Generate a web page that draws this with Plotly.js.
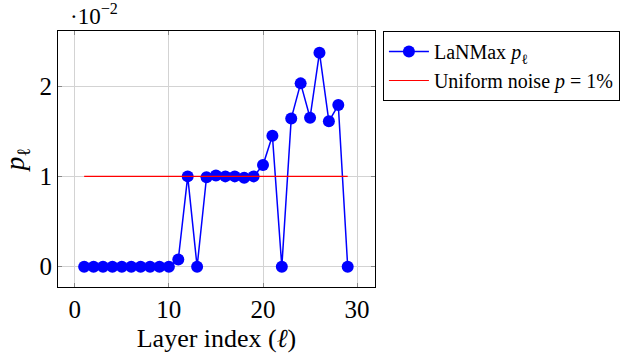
<!DOCTYPE html>
<html>
<head>
<meta charset="utf-8">
<script src="https://cdn.plot.ly/plotly-3.0.1.min.js"></script>
<style>
  body { margin: 0; background: #fff; }
  #plot { width: 640px; height: 356px; }
</style>
</head>
<body>
<div id="plot"></div>
<script>
// layer indices
let layers = [1, 2, 3, 4, 5, 6, 7, 8, 9, 10, 11, 12, 13, 14, 15, 16, 17, 18, 19, 20, 21, 22, 23, 24, 25, 26, 27, 28, 29]
// LaNMax p_l values, in units of 1e-2
let lanmax = [0, 0, 0, 0, 0, 0, 0, 0, 0, 0, 0.08, 1.0, 0, 0.99, 1.01, 1.0, 1.0, 0.985, 1.0, 1.125, 1.45, 0, 1.64, 2.03, 1.65, 2.37, 1.61, 1.79, 0]
// uniform noise level p = 1%
let noiseX = [1, 29]
let noiseY = [1, 1]

let xTicks = [0, 10, 20, 30]
let yTicks = [0, 1, 2]

let serif = 'Liberation Serif, DejaVu Serif, serif'

let trace1 = {
    x: layers,
    y: lanmax,
    mode: 'lines+markers',
    name: 'LaNMax <i>p</i><sub>ℓ</sub>',
    line: {color: '#0000ff', width: 1.5},
    marker: {color: '#0000ff', size: 12}
}

let trace2 = {
    x: noiseX,
    y: noiseY,
    mode: 'lines',
    name: 'Uniform noise <i>p</i> = 1%',
    line: {color: '#ff0000', width: 1.2}
}

let data = [trace1, trace2]

let layout = {
    width: 640,
    height: 356,
    margin: {l: 58, r: 265, t: 31, b: 69},
    paper_bgcolor: '#fff',
    plot_bgcolor: '#fff',
    font: {family: serif, size: 25, color: '#000'},
    showlegend: true,
    legend: {
        x: 1.025, y: 1, xanchor: 'left', yanchor: 'top',
        bordercolor: '#000', borderwidth: 1,
        font: {family: serif, size: 20},
        itemwidth: 40,
        tracegroupgap: 0
    },
    xaxis: {
        range: [-1.78, 31.9],
        tickvals: xTicks,
        ticks: 'inside', ticklen: 4, tickcolor: '#888',
        showgrid: true, gridcolor: '#d3d3d3',
        showline: true, linecolor: '#000', linewidth: 1, mirror: 'ticks',
        zeroline: false,
        title: {text: 'Layer index (<i>ℓ</i>)', font: {size: 26}, standoff: 6}
    },
    yaxis: {
        range: [-0.225, 2.61],
        tickvals: yTicks,
        ticks: 'inside', ticklen: 4, tickcolor: '#888',
        showgrid: true, gridcolor: '#d3d3d3',
        showline: true, linecolor: '#000', linewidth: 1, mirror: 'ticks',
        zeroline: false,
        title: {text: '<i>p</i><sub>ℓ</sub>', font: {size: 27}, standoff: 10}
    },
    annotations: [{
        xref: 'paper', yref: 'paper', x: 0.03, y: 1.0,
        xanchor: 'left', yanchor: 'bottom',
        text: '·10<sup>−2</sup>', showarrow: false,
        font: {family: serif, size: 23}
    }]
}

Plotly.newPlot('plot', data, layout, {staticPlot: true})
</script>
</body>
</html>
